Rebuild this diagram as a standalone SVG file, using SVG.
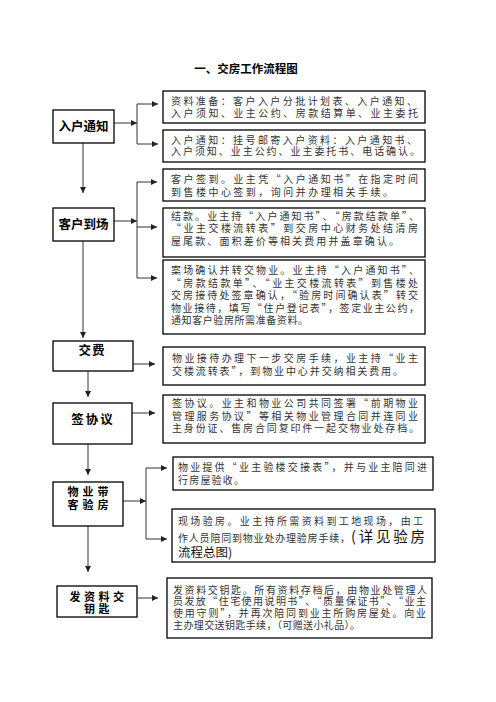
<svg xmlns="http://www.w3.org/2000/svg" width="496" height="702" viewBox="0 0 496 702">
<style>
.bg{fill:#fff}
.box{fill:#fff;stroke:#000;stroke-width:1.3}
.nt{font-family:"Noto Sans CJK SC","Noto Sans",sans-serif;font-weight:bold;font-size:12.5px;fill:#000;text-anchor:middle}
.nt2{font-family:"Noto Sans CJK SC","Noto Sans",sans-serif;font-weight:bold;font-size:11px;fill:#000;text-anchor:middle}
.t{font-family:"Noto Sans CJK SC","Noto Sans",sans-serif;font-size:10px;fill:#333}
.big{font-family:"Noto Sans CJK SC","Noto Sans",sans-serif;font-size:12.5px;fill:#111}
.ttl{font-family:"Noto Sans CJK SC","Noto Sans",sans-serif;font-weight:bold;font-size:11.5px;fill:#000;text-anchor:middle}
.c{fill:none;stroke:#333;stroke-width:1}
</style>
<defs>
<marker id="ah" markerUnits="userSpaceOnUse" markerWidth="6" markerHeight="6" refX="6" refY="3" orient="auto">
<path d="M0,0 L6,3 L0,6 z" fill="#222"/>
</marker>
</defs>
<rect class="bg" x="0" y="0" width="496" height="702"/>
<text class="ttl" x="246" y="72.5">一、交房工作流程图</text>

<g id="connectors">
<path class="c" d="M114,123 H137" marker-end="url(#ah)"/>
<path class="c" d="M137,104 V144"/>
<path class="c" d="M137,104 H158" marker-end="url(#ah)"/>
<path class="c" d="M137,144 H158" marker-end="url(#ah)"/>
<path class="c" d="M83,143 V193" marker-end="url(#ah)"/>

<path class="c" d="M114,221 H137" marker-end="url(#ah)"/>
<path class="c" d="M137,182 V278"/>
<path class="c" d="M137,182 H157" marker-end="url(#ah)"/>
<path class="c" d="M137,227 H157" marker-end="url(#ah)"/>
<path class="c" d="M137,278 H157" marker-end="url(#ah)"/>
<path class="c" d="M83,241 V338" marker-end="url(#ah)"/>

<path class="c" d="M133,364 H155" marker-end="url(#ah)"/>
<path class="c" d="M88,371 V397" marker-end="url(#ah)"/>

<path class="c" d="M132,413 H155" marker-end="url(#ah)"/>
<path class="c" d="M88,444 V475" marker-end="url(#ah)"/>

<path class="c" d="M123,501 H146" marker-end="url(#ah)"/>
<path class="c" d="M146,468 V539"/>
<path class="c" d="M146,468 H167" marker-end="url(#ah)"/>
<path class="c" d="M146,539 H167" marker-end="url(#ah)"/>
<path class="c" d="M88,526 V572" marker-end="url(#ah)"/>

<path class="c" d="M138,598 H158" marker-end="url(#ah)"/>
</g>

<g id="n1">
<rect class="box" x="53" y="110" width="61" height="33"/>
<text class="nt" x="83.5" y="131">入户通知</text>
</g>
<g id="n2">
<rect class="box" x="53" y="208" width="61" height="33"/>
<text class="nt" x="83.5" y="229">客户到场</text>
</g>
<g id="n3">
<rect class="box" x="53" y="341" width="80" height="30"/>
<text class="nt" x="92" y="355" style="letter-spacing:1px">交费</text>
</g>
<g id="n4">
<rect class="box" x="53" y="403" width="79" height="41"/>
<text class="nt" x="93" y="423.5" style="letter-spacing:2px">签协议</text>
</g>
<g id="n5">
<rect class="box" x="53" y="482" width="70" height="44"/>
<text class="nt2" x="90" y="495.5" style="letter-spacing:4px">物业带</text>
<text class="nt2" x="90" y="508.5" style="letter-spacing:4px">客验房</text>
</g>
<g id="n6">
<rect class="box" x="57" y="586" width="80" height="31"/>
<text class="nt2" x="98.5" y="600.5" style="letter-spacing:3.5px">发资料交</text>
<text class="nt2" x="98.5" y="612.5" style="letter-spacing:3.5px">钥匙</text>
</g>

<g id="r1">
<rect class="box" x="163" y="91" width="262" height="32"/>
<text class="t" x="171" y="105.3" textLength="246" lengthAdjust="spacing">资料准备：客户入户分批计划表、入户通知、</text>
<text class="t" x="171" y="117" textLength="247" lengthAdjust="spacing">入户须知、业主公约、房款结算单、业主委托</text>
</g>
<g id="r2">
<rect class="box" x="163" y="130" width="262" height="32"/>
<text class="t" x="171" y="143.8" textLength="246" lengthAdjust="spacing">入户通知：挂号邮寄入户资料：入户通知书、</text>
<text class="t" x="171" y="155.3" textLength="249" lengthAdjust="spacing">入户须知、业主公约、业主委托书、电话确认。</text>
</g>
<g id="r3">
<rect class="box" x="163" y="169" width="262" height="32"/>
<text class="t" x="171" y="183" textLength="247" lengthAdjust="spacing">客户签到。业主凭“入户通知书”在指定时间</text>
<text class="t" x="171" y="196" textLength="222" lengthAdjust="spacing">到售楼中心签到，询问并办理相关手续。</text>
</g>
<g id="r4">
<rect class="box" x="163" y="208" width="262" height="49"/>
<text class="t" x="171" y="219.5" textLength="248" lengthAdjust="spacing">结款。业主持“入户通知书”、“房款结款单”、</text>
<text class="t" x="171" y="232" textLength="247" lengthAdjust="spacing">“业主交楼流转表”到交房中心财务处结清房</text>
<text class="t" x="171" y="244.6" textLength="228" lengthAdjust="spacing">屋尾款、面积差价等相关费用并盖章确认。</text>
</g>
<g id="r5">
<rect class="box" x="163" y="260" width="262" height="74"/>
<text class="t" x="171" y="273.6" textLength="248" lengthAdjust="spacing">案场确认并转交物业。业主持“入户通知书”、</text>
<text class="t" x="171" y="286.8" textLength="247" lengthAdjust="spacing">“房款结款单”、“业主交楼流转表”到售楼处</text>
<text class="t" x="171" y="299.3" textLength="247" lengthAdjust="spacing">交房接待处签章确认，“验房时间确认表”转交</text>
<text class="t" x="171" y="311.8" textLength="248" lengthAdjust="spacing">物业接待，填写“住户登记表”，签定业主公约，</text>
<text class="t" x="171" y="324.3" textLength="137" lengthAdjust="spacing">通知客户验房所需准备资料。</text>
</g>
<g id="r6">
<rect class="box" x="163" y="347" width="262" height="38"/>
<text class="t" x="172" y="361.8" textLength="246" lengthAdjust="spacing">物业接待办理下一步交房手续，业主持“业主</text>
<text class="t" x="172" y="375.2" textLength="231" lengthAdjust="spacing">交楼流转表”，到物业中心并交纳相关费用。</text>
</g>
<g id="r7">
<rect class="box" x="163" y="395" width="262" height="48"/>
<text class="t" x="172" y="407" textLength="246" lengthAdjust="spacing">签协议。业主和物业公司共同签署“前期物业</text>
<text class="t" x="172" y="419.7" textLength="246" lengthAdjust="spacing">管理服务协议”等相关物业管理合同并连同业</text>
<text class="t" x="172" y="432" textLength="247" lengthAdjust="spacing">主身份证、售房合同复印件一起交物业处存档。</text>
</g>
<g id="r8">
<rect class="box" x="173" y="457" width="260" height="33"/>
<text class="t" x="178" y="470.8" textLength="249" lengthAdjust="spacing">物业提供“业主验楼交接表”，并与业主陪同进</text>
<text class="t" x="178" y="483.7" textLength="66" lengthAdjust="spacing">行房屋验收。</text>
</g>
<g id="r9">
<rect class="box" x="172" y="509" width="263" height="53"/>
<text class="t" x="178" y="524.7" textLength="245" lengthAdjust="spacing">现场验房。业主持所需资料到工地现场，由工</text>
<text class="t" x="178" y="541.5" textLength="172" lengthAdjust="spacing">作人员陪同到物业处办理验房手续，</text>
<text class="big" x="351" y="542.3" style="font-size:14.5px" textLength="74" lengthAdjust="spacing">(详见验房</text>
<text class="big" x="178" y="556.5">流程总图)</text>
</g>
<g id="r10">
<rect class="box" x="167" y="578" width="265" height="60"/>
<text class="t" x="173" y="593.6" textLength="254" lengthAdjust="spacing">发资料交钥匙。所有资料存档后，由物业处管理人</text>
<text class="t" x="173" y="605.3" textLength="253" lengthAdjust="spacing">员发放“住宅使用说明书”、“质量保证书”、“业主</text>
<text class="t" x="173" y="617" textLength="253" lengthAdjust="spacing">使用守则”，并再次陪同到业主所购房屋处。向业</text>
<text class="t" x="173" y="628.6" textLength="187" lengthAdjust="spacing">主办理交送钥匙手续，（可赠送小礼品）。</text>
</g>
</svg>
